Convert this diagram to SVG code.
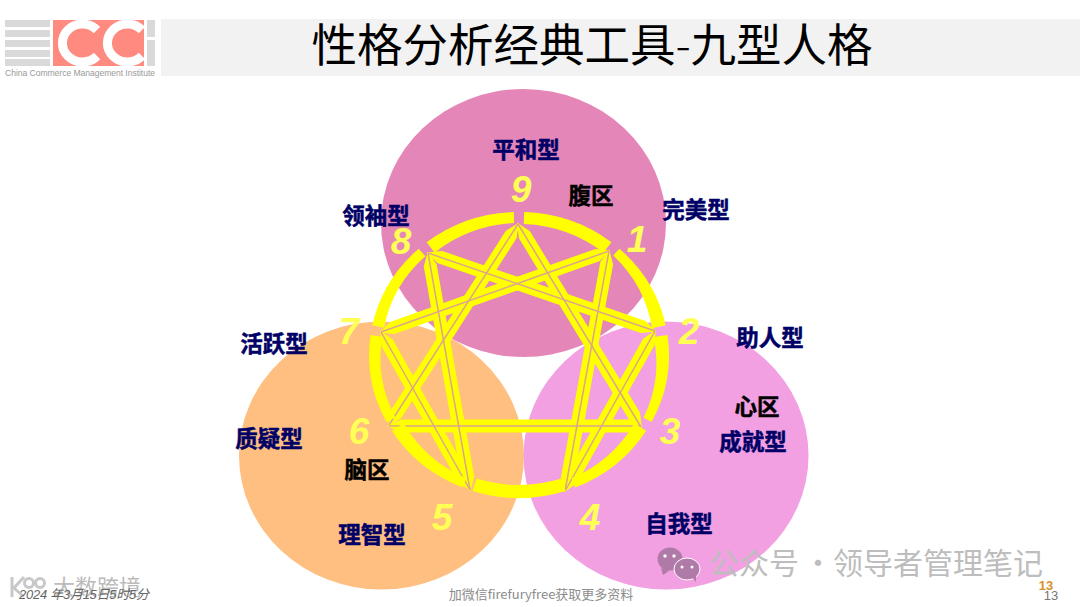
<svg xmlns="http://www.w3.org/2000/svg" width="1080" height="607" viewBox="0 0 1080 607">
<defs>
<marker id="tip" viewBox="0 0 14 14" refX="0.5" refY="7" markerWidth="14" markerHeight="14" markerUnits="userSpaceOnUse" orient="auto-start-reverse"><path d="M0 0.5 14 7 0 13.5Z" fill="#ffff00"/></marker>
<clipPath id="logo"><rect x="53" y="20" width="91" height="46"/></clipPath>
</defs>
<style>
text{font-family:"Liberation Sans","Noto Sans CJK SC",sans-serif}
.cn{font-family:"Noto Sans CJK SC",sans-serif}
.t,.z{font-size:22.5px;font-weight:700;text-anchor:middle;font-family:"Noto Sans CJK SC",sans-serif;stroke-width:.5px}
.t{fill:#000066;stroke:#000066}
.z{fill:#000;stroke:#000}
.n{font-size:37px;font-style:italic;font-weight:700;fill:#ffff55;text-anchor:middle}
.y{fill:#ffff00}
.s line{stroke:#ffff00;stroke-width:13;marker-start:url(#tip);marker-end:url(#tip)}
.g line{stroke:#dca58c;stroke-width:1.5}
</style>
<rect width="1080" height="607" fill="#fff"/>
<g id="header">
<g fill="#d9d9d9"><rect x="5" y="20" width="45" height="7"/><rect x="5" y="30" width="45" height="7"/><rect x="5" y="40" width="45" height="7"/><rect x="5" y="50" width="45" height="7"/><rect x="5" y="59" width="45" height="7"/><rect x="147" y="20" width="8" height="17"/><rect x="147" y="40" width="8" height="26"/></g>
<rect x="53" y="20" width="91" height="46" fill="#ff8a80"/>
<g clip-path="url(#logo)" fill="none" stroke="#fff" stroke-width="9"><path d="M97 30A20 19 0 1 0 97 56"/><path d="M142 30A20 19 0 1 0 142 56"/></g>
<text x="5" y="76" font-size="8.6" fill="#999" textLength="150">China Commerce Management Institute</text>
<rect x="161" y="19" width="919" height="57" fill="#f2f2f2"/>
<text x="592" y="62" text-anchor="middle" class="cn" font-size="45.5" fill="#000">性格分析经典工具<tspan font-weight="300">-</tspan>九型人格</text>
</g>
<g id="zone-gut"><ellipse cx="523.5" cy="223" rx="142.5" ry="134" fill="#e586b8"/></g>
<g id="zone-head"><ellipse cx="381.5" cy="455.5" rx="142.5" ry="134" fill="#ffbf80"/></g>
<g id="zone-heart"><ellipse cx="666" cy="455.5" rx="142.5" ry="134" fill="#f2a0e2"/></g>
<g id="connectors">
<g class="s">
<line x1="511.5" y1="234.1" x2="395.5" y2="414.9"/>
<line x1="524.2" y1="234.3" x2="634.8" y2="416.7"/>
<line x1="401" y1="426" x2="629" y2="426"/>
<line x1="606.8" y1="262.8" x2="567.2" y2="479.2"/>
<line x1="597.7" y1="255" x2="392.3" y2="328"/>
<line x1="643.6" y1="327.1" x2="439.4" y2="256.9"/>
<line x1="649.1" y1="341.5" x2="570.9" y2="480.5"/>
<line x1="430.1" y1="264.8" x2="467.9" y2="478.2"/>
<line x1="464.1" y1="479.5" x2="386.9" y2="342.5"/>
</g>
<g class="g">
<line x1="518" y1="224" x2="389" y2="425"/>
<line x1="518" y1="224" x2="641" y2="427"/>
<line x1="389" y1="426" x2="641" y2="426"/>
<line x1="609" y1="251" x2="565" y2="491"/>
<line x1="609" y1="251" x2="381" y2="332"/>
<line x1="655" y1="331" x2="428" y2="253"/>
<line x1="655" y1="331" x2="565" y2="491"/>
<line x1="428" y1="253" x2="470" y2="490"/>
<line x1="470" y1="490" x2="381" y2="332"/>
</g>
<g class="y">
<path d="M524.2 212.1A150 143 0 0 1 611.4 242.3L603.4 252.6A137 130 0 0 0 523.8 224.1Z"/>
<path d="M619.4 248.8A150 143 0 0 1 665.7 325.3L652 328.2A137 130 0 0 0 613.3 255.4Z"/>
<path d="M667.5 335.1A150 143 0 0 1 651.5 422.1L643.5 417.8A137 130 0 0 0 653.6 337Z"/>
<path d="M646.2 430.8A150 143 0 0 1 575.3 487.6L571.5 478.3A137 130 0 0 0 634.3 423.4Z"/>
<path d="M565.4 491A150 143 0 0 1 472.6 491L476.7 478.6A137 130 0 0 0 561.3 478.6Z"/>
<path d="M462.8 487.6A150 143 0 0 1 391.8 430.8L403.7 423.4A137 130 0 0 0 466.5 478.3Z"/>
<path d="M386.6 422.1A150 143 0 0 1 370.5 335.1L382.4 336.8A137 130 0 0 0 395.4 417.4Z"/>
<path d="M372.3 325.3A150 143 0 0 1 418.7 248.8L425.3 256.2A137 130 0 0 0 384 327.8Z"/>
<path d="M426.6 242.3A150 143 0 0 1 513.8 212.1L514.1 223.1A137 130 0 0 0 434.6 252.6Z"/>
</g>
</g>
<g id="point-9"><text class="n" x="521" y="202">9</text><text class="t" x="526" y="158">平和型</text></g>
<g id="point-1"><text class="n" x="637" y="252">1</text><text class="t" x="696" y="218">完美型</text></g>
<g id="point-2"><text class="n" x="689" y="344">2</text><text class="t" x="770" y="346">助人型</text></g>
<g id="point-3"><text class="n" x="670" y="444">3</text><text class="t" x="753" y="450">成就型</text></g>
<g id="point-4"><text class="n" x="590" y="530">4</text><text class="t" x="679" y="532">自我型</text></g>
<g id="point-5"><text class="n" x="442" y="530">5</text><text class="t" x="372" y="543">理智型</text></g>
<g id="point-6"><text class="n" x="359" y="444">6</text><text class="t" x="269" y="447">质疑型</text></g>
<g id="point-7"><text class="n" x="349" y="344">7</text><text class="t" x="274" y="352">活跃型</text></g>
<g id="point-8"><text class="n" x="401" y="254">8</text><text class="t" x="376" y="224">领袖型</text></g>
<g id="label-gut"><text class="z" x="591" y="204">腹区</text></g>
<g id="label-heart"><text class="z" x="757" y="415">心区</text></g>
<g id="label-head"><text class="z" x="367" y="478">脑区</text></g>
<g id="footer">
<g fill="none" stroke="#c8c8c8" stroke-width="3"><path d="M12 577V597M24 577 14 588 24 597"/><circle cx="29" cy="583" r="4.5"/><circle cx="40" cy="583" r="4.5"/></g>
<text x="53" y="595" font-size="22" class="cn" fill="#bbb">大数跨境</text>
<text x="19" y="599" font-size="13" font-style="italic" fill="#666" textLength="130">2024 年3月15日5时5分</text>
<text x="541" y="599" text-anchor="middle" font-size="13" class="cn" fill="#8c8c8c">加微信firefuryfree获取更多资料</text>
<text x="1046" y="590" text-anchor="middle" font-size="13" font-weight="700" fill="#d9902f">13</text>
<text x="1051" y="600" text-anchor="middle" font-size="13" fill="#777">13</text>
<g id="watermark">
<path d="M661 568l2 7 6-4Z" fill="#b07aa8"/><ellipse cx="670" cy="559" rx="12.5" ry="11.5" fill="#b07aa8"/>
<ellipse cx="687" cy="569" rx="13" ry="11" fill="#b07aa8" stroke="#fff" stroke-width="1"/><path d="M692 577l4 5 0-7Z" fill="#b07aa8"/>
<g fill="#fff"><circle cx="665" cy="556" r="1.7"/><circle cx="674" cy="556" r="1.7"/><circle cx="682" cy="567" r="1.5"/><circle cx="692" cy="567" r="1.5"/></g>
</g>
<text y="574" font-size="30" class="cn" fill="#bdbdbd"><tspan x="709">公众号</tspan><tspan x="803">·</tspan><tspan x="833">领导者管理笔记</tspan></text>
</g>
</svg>
